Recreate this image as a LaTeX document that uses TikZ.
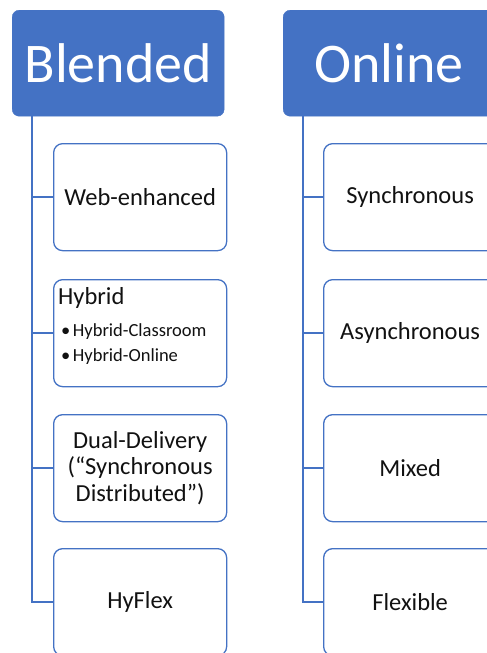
\documentclass[tikz,border=0pt]{standalone}
\usepackage{fontspec}
\setmainfont{Carlito}
\definecolor{hdrblue}{HTML}{4472C4}
\definecolor{txtgray}{HTML}{111111}
\begin{document}
\begin{tikzpicture}[x=1pt,y=-1pt,
  hdr/.style={draw=hdrblue,fill=hdrblue,rounded corners=7pt,minimum width=212pt,minimum height=106pt,
    inner sep=0pt,text=white,font=\fontsize{56}{60}\selectfont,anchor=north west},
  itembox/.style={draw=hdrblue,line width=1.3pt,fill=white,rounded corners=9pt,minimum width=173pt,
    minimum height=107pt,inner sep=0pt,anchor=north west,text=txtgray,font=\fontsize{24.5}{26.5}\selectfont,align=center},
  subtxt/.style={anchor=west,inner sep=0pt,text=txtgray,font=\fontsize{18.5}{20}\selectfont},
  conn/.style={draw=hdrblue,line width=1.5pt}]
\useasboundingbox (0,0) rectangle (487,653);
\clip (0,0) rectangle (487,653);
% headers
\node[hdr] (blended) at (12,10) {Blended};
\node[hdr] (online) at (283,10) {Online};
% left boxes
\node[itembox] (web) at (53,143) {Web-enhanced};
\node[itembox] (hyb) at (53,279) {};
\node[itembox] (dual) at (53,414) {Dual-Delivery\\(“Synchronous\\Distributed”)};
\node[itembox] (hyf) at (53,548) {HyFlex};
\node[anchor=base west,inner sep=0pt,text=txtgray,font=\fontsize{24.5}{26}\selectfont] (hybt) at (58,304) {Hybrid};
\node[subtxt] (hyb1) at (61,332) {\textbullet\hspace{2.5pt}Hybrid-Classroom};
\node[subtxt] (hyb2) at (61,357) {\textbullet\hspace{2.5pt}Hybrid-Online};
% right boxes
\node[itembox] (sync) at (323,143) {Synchronous};
\node[itembox] (async) at (323,279) {Asynchronous};
\node[itembox] (mixed) at (323,414) {Mixed};
\node[itembox] (flex) at (323,548) {Flexible};
% connectors
\coordinate (lv) at ([xshift=20pt]blended.south west);
\coordinate (rv) at ([xshift=20pt]online.south west);
\draw[conn] (lv) |- (web.west);
\draw[conn] (lv) |- (hyb.west);
\draw[conn] (lv) |- (dual.west);
\draw[conn] (lv) |- (hyf.west);
\draw[conn] (rv) |- (sync.west);
\draw[conn] (rv) |- (async.west);
\draw[conn] (rv) |- (mixed.west);
\draw[conn] (rv) |- (flex.west);
\end{tikzpicture}
\end{document}
